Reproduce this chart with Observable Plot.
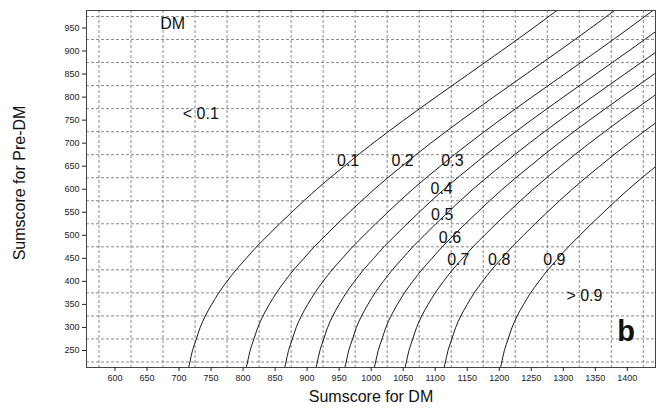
<!DOCTYPE html>
<html>
<head>
<meta charset="utf-8">
<script src="https://cdn.jsdelivr.net/npm/d3@7"></script>
<script src="https://cdn.jsdelivr.net/npm/@observablehq/plot@0.6"></script>
<style>
  body { margin: 0; background: #fff; }
</style>
</head>
<body>
<div id="chart"></div>
<script>
// Tick labels and grid positions
const xTicks = [600, 650, 700, 750, 800, 850, 900, 950, 1000, 1050, 1100, 1150, 1200, 1250, 1300, 1350, 1400];
const yTicks = [250, 300, 350, 400, 450, 500, 550, 600, 650, 700, 750, 800, 850, 900, 950];
const xGrid = [575, 625, 675, 725, 775, 825, 875, 925, 975, 1025, 1075, 1125, 1175, 1225, 1275, 1325, 1375, 1425];
const yGrid = [225, 275, 325, 375, 425, 475, 525, 575, 625, 675, 725, 775, 825, 875, 925, 975];

// Pre-DM sumscore levels at which each contour was read
const preDM = [213, 225, 250, 275, 300, 325, 350, 375, 400, 425, 450, 475, 500, 525, 550, 575, 600, 625, 650, 675, 700, 750, 800, 850, 900, 950, 988];

// DM sumscore of each probability contour at those levels
const p01 = [715, 717, 721, 727, 733, 741, 751, 762, 775, 789, 805, 821, 839, 857, 876, 895, 915, 936, 958, 980, 1003, 1051, 1101, 1152, 1203, 1253, 1290];
const p02 = [805, 807, 811, 817, 823, 831, 841, 852, 865, 879, 895, 911, 929, 947, 966, 985, 1005, 1026, 1048, 1070, 1093, 1141, 1191, 1242, 1293, 1343, 1380];
const p03 = [865, 867, 871, 877, 883, 891, 901, 912, 925, 939, 955, 971, 989, 1007, 1026, 1045, 1065, 1086, 1108, 1130, 1153, 1201, 1251, 1302, 1353, 1403, 1440];
const p04 = [914, 916, 920, 926, 932, 940, 950, 961, 974, 988, 1004, 1020, 1038, 1056, 1075, 1094, 1114, 1135, 1157, 1179, 1202, 1250, 1300, 1351, 1402, 1452];
const p05 = [959, 961, 965, 971, 977, 985, 995, 1006, 1019, 1033, 1049, 1065, 1083, 1101, 1120, 1139, 1159, 1180, 1202, 1224, 1247, 1295, 1345, 1396, 1447];
const p06 = [1005, 1007, 1011, 1017, 1023, 1031, 1041, 1052, 1065, 1079, 1095, 1111, 1129, 1147, 1166, 1185, 1205, 1226, 1248, 1270, 1293, 1341, 1391, 1442, 1493];
const p07 = [1053, 1055, 1059, 1065, 1071, 1079, 1089, 1100, 1113, 1127, 1143, 1159, 1177, 1195, 1214, 1233, 1253, 1274, 1296, 1318, 1341, 1389, 1439, 1490];
const p08 = [1114, 1116, 1120, 1126, 1132, 1140, 1150, 1161, 1174, 1188, 1204, 1220, 1238, 1256, 1275, 1294, 1314, 1335, 1357, 1379, 1402, 1450];
const p09 = [1202, 1204, 1208, 1214, 1220, 1228, 1238, 1249, 1262, 1276, 1292, 1308, 1326, 1344, 1363, 1382, 1402, 1423, 1445];

const curveNames = ["0.1", "0.2", "0.3", "0.4", "0.5", "0.6", "0.7", "0.8", "0.9"];
const curveValues = [p01, p02, p03, p04, p05, p06, p07, p08, p09];

// In-plot annotations
const labelText = ["0.1", "0.2", "0.3", "0.4", "0.5", "0.6", "0.7", "0.8", "0.9", "> 0.9", "< 0.1", "DM"];
const labelX = [964, 1049, 1127, 1110, 1111, 1123, 1136, 1200, 1286, 1333, 734, 690];
const labelY = [661, 661, 661, 601, 545, 494, 446, 446, 446, 368, 764, 959];

const rows = curveNames.flatMap((p, k) => curveValues[k].map((x, i) => ({p, x, y: preDM[i]})));
const labels = labelText.map((t, i) => ({t, x: labelX[i], y: labelY[i]}));

const font = "'Liberation Sans', Arial, Helvetica, sans-serif";

const chart = Plot.plot({
  width: 656,
  height: 413,
  marginLeft: 86,
  marginTop: 10,
  marginRight: 1,
  marginBottom: 46,
  style: {fontFamily: font, background: "#fff", color: "#222"},
  x: {domain: [555.5, 1444], label: null},
  y: {domain: [213, 988], label: null},
  marks: [
    Plot.ruleX(xGrid, {stroke: "#8a8a8a", strokeDasharray: "3,2", strokeWidth: 1}),
    Plot.ruleY(yGrid, {stroke: "#8a8a8a", strokeDasharray: "3,2", strokeWidth: 1}),
    Plot.line(rows, {x: "x", y: "y", z: "p", stroke: "#1a1a1a", strokeWidth: 1, curve: "monotone-y", clip: true}),
    Plot.frame({stroke: "#444"}),
    Plot.axisX(xTicks, {tickSize: 4, tickPadding: 3, fontSize: 9, label: null, tickFormat: d => String(d)}),
    Plot.axisY(yTicks, {tickSize: 4, tickPadding: 3, fontSize: 9, label: null, tickFormat: d => String(d)}),
    Plot.text(labels, {x: "x", y: "y", text: "t", fontSize: 16, fill: "#111"}),
    Plot.text(["b"], {x: () => 1398, y: () => 290, text: d => d, fontSize: 29, fontWeight: "bold", fill: "#111"}),
    Plot.text(["Sumscore for DM"], {frameAnchor: "bottom", dy: 34, text: d => d, fontSize: 16, fill: "#111"}),
    Plot.text(["Sumscore for Pre-DM"], {frameAnchor: "left", textAnchor: "middle", dx: -67, dy: -6, rotate: -90, text: d => d, fontSize: 16, fill: "#111"})
  ]
});
document.getElementById("chart").appendChild(chart);
</script>
</body>
</html>
